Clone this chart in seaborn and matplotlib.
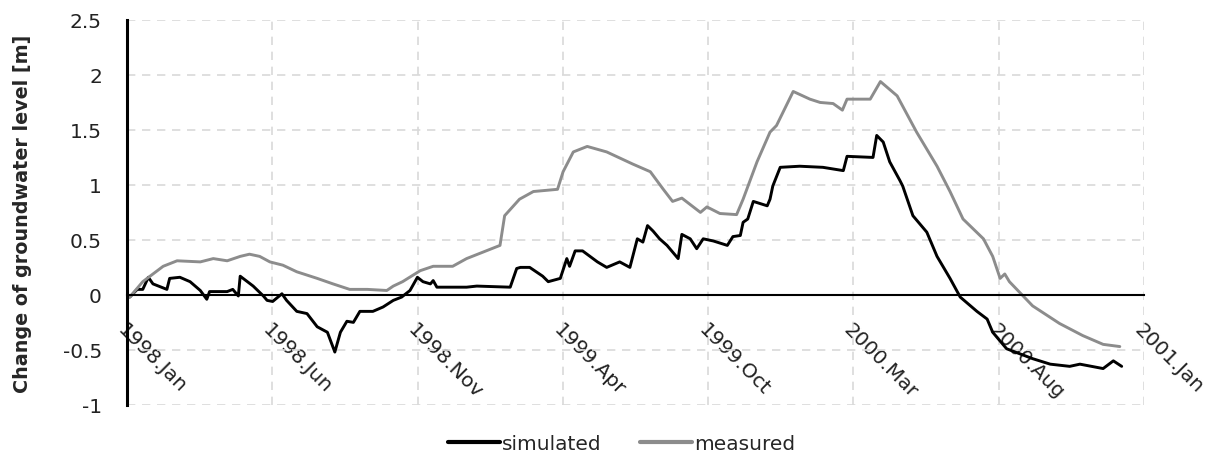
import matplotlib
matplotlib.use("Agg")
import matplotlib.pyplot as plt
import seaborn as sns
import pandas as pd
import numpy as np

# days since 1998-01-01 and level change [m]
sim_day = [0, 3, 11, 17, 23, 28, 43, 46, 57, 68, 79, 86, 89, 108, 114, 120, 122, 136,
           147, 151, 157, 167, 172, 183, 194, 205, 216, 224, 230, 237, 244, 251, 265,
           276, 287, 296, 305, 313, 319, 327, 330, 334, 366, 377, 413, 420, 424, 434,
           448, 454, 467, 474, 477, 483, 491, 507, 517, 531, 542, 550, 556, 561, 567,
           574, 582, 594, 598, 607, 614, 621, 632, 647, 653, 661, 664, 669, 675, 690,
           693, 696, 704, 725, 750, 772, 776, 804, 808, 815, 822, 833, 836, 847, 862,
           873, 887, 898, 916, 927, 933, 948, 976, 995, 1016, 1027, 1052, 1063, 1072]
sim_val = [0.0, -0.02, 0.05, 0.05, 0.16, 0.10, 0.05, 0.15, 0.16, 0.12, 0.04, -0.04,
           0.03, 0.03, 0.05, -0.01, 0.17, 0.08, -0.01, -0.05, -0.06, 0.01, -0.05, -0.15,
           -0.17, -0.29, -0.34, -0.52, -0.34, -0.24, -0.25, -0.15, -0.15, -0.11, -0.05,
           -0.02, 0.04, 0.16, 0.12, 0.10, 0.13, 0.07, 0.07, 0.08, 0.07, 0.24, 0.25, 0.25,
           0.17, 0.12, 0.15, 0.33, 0.26, 0.40, 0.40, 0.30, 0.25, 0.30, 0.25, 0.51, 0.48,
           0.63, 0.58, 0.51, 0.45, 0.33, 0.55, 0.51, 0.42, 0.51, 0.49, 0.45, 0.53, 0.54,
           0.66, 0.69, 0.85, 0.81, 0.87, 0.99, 1.16, 1.17, 1.16, 1.13, 1.26, 1.25, 1.45,
           1.39, 1.21, 1.04, 0.99, 0.72, 0.57, 0.35, 0.15, -0.02, -0.15, -0.22, -0.34,
           -0.49, -0.58, -0.63, -0.65, -0.63, -0.67, -0.60, -0.65]

meas_day = [0, 3, 17, 39, 54, 79, 93, 108, 122, 132, 143, 154, 168, 183, 205, 222, 240,
            259, 280, 287, 297, 316, 330, 351, 366, 384, 402, 407, 423, 438, 464, 470,
            481, 496, 517, 545, 564, 578, 588, 598, 618, 625, 639, 657, 664, 679, 693,
            700, 718, 736, 747, 761, 771, 776, 801, 812, 830, 851, 873, 887, 901, 923,
            933, 941, 946, 951, 976, 1005, 1030, 1052, 1070]
meas_val = [0.0, -0.02, 0.12, 0.26, 0.31, 0.30, 0.33, 0.31, 0.35, 0.37, 0.35, 0.30,
            0.27, 0.21, 0.15, 0.10, 0.05, 0.05, 0.04, 0.08, 0.12, 0.22, 0.26, 0.26, 0.33,
            0.39, 0.45, 0.72, 0.87, 0.94, 0.96, 1.12, 1.30, 1.35, 1.30, 1.19, 1.12, 0.96,
            0.85, 0.88, 0.75, 0.80, 0.74, 0.73, 0.87, 1.21, 1.48, 1.54, 1.85, 1.78, 1.75,
            1.74, 1.68, 1.78, 1.78, 1.94, 1.81, 1.48, 1.17, 0.94, 0.69, 0.51, 0.35, 0.15,
            0.19, 0.12, -0.10, -0.26, -0.37, -0.45, -0.47]

tick_labels = ["1998.Jan", "1998.Jun", "1998.Nov", "1999.Apr", "1999.Oct",
               "2000.Mar", "2000.Aug", "2001.Jan"]

df = pd.concat([
    pd.DataFrame({"day": sim_day, "level": sim_val, "series": "simulated"}),
    pd.DataFrame({"day": meas_day, "level": meas_val, "series": "measured"}),
], ignore_index=True)

sns.set_style("white")
plt.rcParams["font.family"] = ["DejaVu Sans"]

fig = plt.figure(figsize=(12.14, 4.56), dpi=100)
ax = fig.add_axes([0.1046, 0.110, 0.8377, 0.844])

sns.lineplot(data=df, x="day", y="level", hue="series", sort=False,
             palette={"simulated": "black", "measured": "#8c8c8c"},
             linewidth=2.1, ax=ax, legend=False)

ax.set_xlim(0, 1096)
ax.set_ylim(-1, 2.5)
ax.set_xticks(np.linspace(0, 1096, 8))
ax.set_xticklabels(tick_labels)
ax.set_yticks(np.arange(-1, 2.51, 0.5))
ax.set_yticklabels(["-1", "-0.5", "0", "0.5", "1", "1.5", "2", "2.5"])
ax.grid(True, color="#d9d9d9", linestyle=(0, (5, 4)), linewidth=1.2)
ax.set_axisbelow(True)

ax.spines["top"].set_visible(False)
ax.spines["right"].set_visible(False)
ax.spines["bottom"].set_position(("data", 0))
ax.spines["bottom"].set_linewidth(1.5)
ax.spines["bottom"].set_color("black")
ax.spines["left"].set_linewidth(2.2)
ax.spines["left"].set_color("black")
ax.tick_params(axis="x", direction="out", length=6, width=1.5, pad=12,
               color="black", labelsize=14.5, labelcolor="#222222")
ax.tick_params(axis="y", direction="out", length=6, width=2.2, pad=12,
               color="black", labelsize=14.5, labelcolor="#222222")
plt.setp(ax.get_xticklabels(), rotation=-45, ha="left", va="top",
         rotation_mode="anchor")

ax.set_xlabel("")
ax.set_ylabel("Change of groundwater level [m]", fontsize=13.8, fontweight="bold",
              labelpad=22)

handles = [plt.Line2D([], [], color="black", linewidth=3),
           plt.Line2D([], [], color="#8c8c8c", linewidth=3)]
fig.legend(handles, ["simulated", "measured"], loc="lower center",
           bbox_to_anchor=(0.512, -0.035), ncol=2, frameon=False, fontsize=14.5,
           handlelength=2.6, handletextpad=0.1, columnspacing=1.9)

fig.savefig("out.png", dpi=100)
